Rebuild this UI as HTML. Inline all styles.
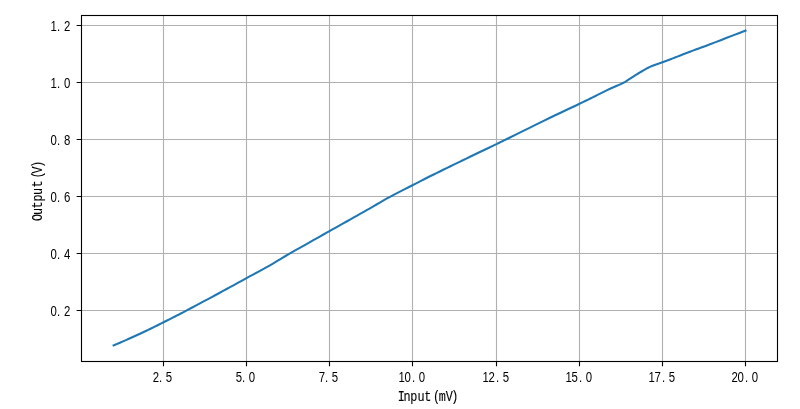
<!DOCTYPE html><html><head><meta charset="utf-8"><style>html,body{margin:0;padding:0;background:#fff;}svg{display:block}.tx{filter:grayscale(1)}text{font-family:"Liberation Sans", "Noto Sans CJK SC", sans-serif;font-size:13.89px;fill:#000}.lab{font-family:"Liberation Mono", "Noto Sans CJK SC", monospace;font-size:13.89px;stroke:#000;stroke-width:0.12px}</style></head><body>
<svg width="800" height="409" viewBox="0 0 800 409">
<rect x="0" y="0" width="800" height="409" fill="#fff"/>
<path d="M163.5 15.5V361.5M246.5 15.5V361.5M329.5 15.5V361.5M412.5 15.5V361.5M496.5 15.5V361.5M579.5 15.5V361.5M662.5 15.5V361.5M745.5 15.5V361.5M81.5 25.5H777.5M81.5 82.5H777.5M81.5 139.5H777.5M81.5 196.5H777.5M81.5 253.5H777.5M81.5 310.5H777.5" stroke="#b0b0b0" stroke-width="1.11" fill="none"/>
<path d="M163.5 361.5v4.86M246.5 361.5v4.86M329.5 361.5v4.86M412.5 361.5v4.86M496.5 361.5v4.86M579.5 361.5v4.86M662.5 361.5v4.86M745.5 361.5v4.86M81.5 25.5h-4.86M81.5 82.5h-4.86M81.5 139.5h-4.86M81.5 196.5h-4.86M81.5 253.5h-4.86M81.5 310.5h-4.86" stroke="#000" stroke-width="1.11" fill="none"/>
<path d="M113.60 345.40 L114.62 344.97 L115.60 344.56 L116.57 344.16 L117.60 343.73 L118.72 343.25 L120.00 342.70 L121.46 342.07 L123.07 341.37 L124.78 340.62 L126.53 339.84 L128.29 339.06 L130.00 338.30 L131.67 337.55 L133.33 336.79 L135.00 336.02 L136.67 335.25 L138.33 334.47 L140.00 333.70 L141.63 332.95 L143.20 332.21 L144.78 331.48 L146.41 330.72 L148.13 329.90 L150.00 329.00 L152.07 327.99 L154.31 326.88 L156.66 325.72 L159.02 324.54 L161.33 323.39 L163.50 322.30 L165.55 321.27 L167.54 320.28 L169.47 319.31 L171.35 318.36 L173.19 317.42 L175.00 316.50 L176.60 315.68 L177.96 314.98 L179.28 314.30 L180.76 313.53 L182.60 312.56 L185.00 311.30 L188.09 309.67 L191.74 307.74 L195.75 305.62 L199.93 303.40 L204.07 301.20 L208.00 299.10 L211.79 297.07 L215.61 295.01 L219.41 292.96 L223.11 290.95 L226.66 289.02 L230.00 287.20 L232.99 285.56 L235.65 284.10 L238.16 282.71 L240.69 281.30 L243.41 279.80 L246.50 278.10 L250.07 276.16 L253.99 274.05 L258.11 271.83 L262.26 269.59 L266.28 267.38 L270.00 265.30 L273.36 263.35 L276.49 261.48 L279.49 259.65 L282.45 257.83 L285.49 255.99 L288.70 254.10 L292.12 252.13 L295.67 250.12 L299.30 248.09 L302.94 246.06 L306.52 244.05 L310.00 242.10 L313.34 240.21 L316.60 238.38 L319.80 236.57 L322.99 234.77 L326.21 232.95 L329.50 231.10 L332.86 229.21 L336.28 227.30 L339.72 225.37 L343.17 223.44 L346.60 221.51 L350.00 219.60 L353.36 217.71 L356.70 215.83 L360.03 213.95 L363.35 212.07 L366.67 210.19 L370.00 208.30 L373.30 206.40 L376.57 204.49 L379.84 202.57 L383.15 200.65 L386.52 198.72 L390.00 196.80 L393.66 194.84 L397.50 192.84 L401.41 190.84 L405.28 188.87 L409.01 186.98 L412.50 185.20 L415.68 183.57 L418.61 182.07 L421.41 180.64 L424.17 179.23 L427.00 177.80 L430.00 176.30 L433.19 174.72 L436.48 173.10 L439.84 171.45 L443.24 169.79 L446.64 168.14 L450.00 166.50 L453.26 164.91 L456.43 163.37 L459.59 161.83 L462.85 160.25 L466.29 158.59 L470.00 156.80 L474.19 154.79 L478.83 152.56 L483.66 150.26 L488.39 147.99 L492.76 145.90 L496.50 144.10 L499.20 142.80 L500.98 141.93 L502.41 141.24 L504.02 140.44 L506.37 139.29 L510.00 137.50 L515.25 134.91 L521.76 131.69 L529.00 128.11 L536.46 124.43 L543.63 120.91 L550.00 117.80 L555.69 115.06 L561.13 112.47 L566.28 110.04 L571.09 107.78 L575.52 105.70 L579.50 103.80 L582.90 102.16 L585.72 100.79 L588.16 99.59 L590.39 98.48 L592.61 97.38 L595.00 96.20 L597.55 94.94 L600.11 93.66 L602.66 92.39 L605.17 91.14 L607.62 89.94 L610.00 88.80 L612.33 87.74 L614.63 86.74 L616.88 85.79 L619.04 84.86 L621.09 83.94 L623.00 83.00 L624.74 82.05 L626.33 81.10 L627.81 80.15 L629.22 79.21 L630.60 78.30 L632.00 77.40 L633.37 76.54 L634.67 75.71 L635.94 74.89 L637.22 74.08 L638.56 73.26 L640.00 72.40 L641.52 71.50 L643.09 70.57 L644.72 69.63 L646.41 68.69 L648.17 67.77 L650.00 66.90 L651.94 66.08 L653.98 65.31 L656.09 64.56 L658.24 63.81 L660.39 63.07 L662.50 62.30 L664.55 61.52 L666.57 60.75 L668.59 59.97 L670.65 59.18 L672.77 58.36 L675.00 57.50 L677.30 56.61 L679.63 55.70 L682.03 54.76 L684.54 53.79 L687.18 52.77 L690.00 51.70 L692.86 50.63 L695.72 49.59 L698.72 48.49 L702.00 47.29 L705.71 45.92 L710.00 44.30 L715.02 42.38 L720.69 40.20 L726.78 37.84 L733.09 35.40 L739.40 32.96 L745.50 30.60" stroke="#1f77b4" stroke-width="2.08" fill="none" stroke-linecap="square" stroke-linejoin="round"/>
<rect x="81.5" y="15.5" width="696.0" height="346.0" stroke="#000" stroke-width="1.11" fill="none"/>
<g class="tx">
<text transform="scale(0.82 1)" x="190.24 195.85 205.98" y="382" text-anchor="middle">2.5</text>
<text transform="scale(0.82 1)" x="291.46 297.07 307.20" y="382" text-anchor="middle">5.0</text>
<text transform="scale(0.82 1)" x="392.68 398.29 408.41" y="382" text-anchor="middle">7.5</text>
<text transform="scale(0.82 1)" x="489.88 497.20 504.27 514.63" y="382" text-anchor="middle">10.0</text>
<text transform="scale(0.82 1)" x="592.32 599.63 606.71 617.07" y="382" text-anchor="middle">12.5</text>
<text transform="scale(0.82 1)" x="693.54 700.85 707.93 718.29" y="382" text-anchor="middle">15.0</text>
<text transform="scale(0.82 1)" x="794.76 802.07 809.15 819.51" y="382" text-anchor="middle">17.5</text>
<text transform="scale(0.82 1)" x="895.98 903.29 910.37 920.73" y="382" text-anchor="middle">20.0</text>
<text transform="scale(0.82 1)" x="65.49 71.52 81.89" y="30.8" text-anchor="middle">1.2</text>
<text transform="scale(0.82 1)" x="65.49 71.52 81.89" y="87.8" text-anchor="middle">1.0</text>
<text transform="scale(0.82 1)" x="65.49 71.52 81.89" y="144.8" text-anchor="middle">0.8</text>
<text transform="scale(0.82 1)" x="65.49 71.52 81.89" y="201.8" text-anchor="middle">0.6</text>
<text transform="scale(0.82 1)" x="65.49 71.52 81.89" y="258.8" text-anchor="middle">0.4</text>
<text transform="scale(0.82 1)" x="65.49 71.52 81.89" y="315.8" text-anchor="middle">0.2</text>
<text transform="scale(0.85 1)" x="472.12 478.94 486.71 495.24 503.41 513.65 520.35 528.71 535.18" y="400.6" text-anchor="middle" class="lab">Input(mV)</text>
<text transform="rotate(-90) scale(0.85 1)" x="-255.88 -248.76 -241.00 -232.94 -225.29 -216.29 -205.94 -199.94 -193.24" y="42.4" text-anchor="middle" class="lab">Output(V)</text>
</g>
</svg></body></html>
